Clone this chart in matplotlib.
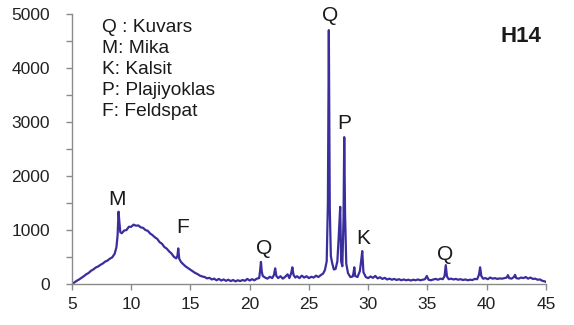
import numpy as np
import matplotlib
matplotlib.use("Agg")
import matplotlib.pyplot as plt
from matplotlib.ticker import MultipleLocator

plt.rcParams["font.family"] = ["Liberation Sans", "DejaVu Sans"]

# amorphous hump + mica / feldspar region (2-theta, counts)
hump_theta = [5.0, 5.2, 5.4, 5.6, 5.8, 6.0, 6.2, 6.4, 6.6, 6.8, 7.0, 7.2, 7.4,
              7.6, 7.8, 8.0, 8.2, 8.4, 8.6, 8.75, 8.85, 8.93, 9.0, 9.08, 9.2,
              9.4, 9.6, 9.8, 10.0, 10.2, 10.4, 10.6, 10.8, 11.0, 11.2, 11.4,
              11.6, 11.8, 12.0, 12.2, 12.4, 12.6, 12.8, 13.0, 13.2, 13.4, 13.6,
              13.8, 13.9, 13.97, 14.05, 14.2, 14.4, 14.6, 14.8, 15.0, 15.2,
              15.4, 15.6, 15.8, 16.0]
hump_counts = [0, 30, 60, 85, 115, 145, 180, 205, 245, 270, 305, 325, 355,
               380, 415, 435, 470, 495, 560, 680, 900, 1340, 1150, 960, 940,
               990, 1000, 1060, 1060, 1100, 1080, 1085, 1050, 1040, 1000, 985,
               935, 905, 865, 835, 775, 745, 685, 655, 605, 565, 505,
               475, 520, 660, 470, 410, 365, 325, 295, 265, 235,
               205, 185, 155, 140]

# quartz / plagioclase / calcite region
mid_theta = [16.2, 16.4, 16.6, 16.8, 17.0, 17.2, 17.4, 17.6, 17.8, 18.0, 18.2,
             18.4, 18.6, 18.8, 19.0, 19.2, 19.4, 19.6, 19.8, 20.0, 20.2, 20.4,
             20.6, 20.8, 20.88, 20.95, 21.02, 21.1, 21.3, 21.5, 21.7, 21.9,
             22.05, 22.15, 22.25, 22.4, 22.6, 22.8, 23.0, 23.2, 23.35, 23.5,
             23.6, 23.7, 23.85, 24.0, 24.2, 24.4, 24.6, 24.8, 25.0, 25.2, 25.4,
             25.6, 25.8, 26.0, 26.2, 26.35, 26.5, 26.6, 26.68, 26.76, 26.85,
             26.95, 27.1, 27.25, 27.4, 27.52, 27.64, 27.72, 27.82, 27.92,
             27.98, 28.05, 28.15, 28.3, 28.5, 28.7, 28.78, 28.83, 28.9, 29.1,
             29.3, 29.42, 29.5, 29.6, 29.8]
mid_counts = [130, 105, 115, 85, 100, 70, 95, 65, 85, 60, 80,
              55, 75, 50, 70, 55, 75, 60, 95, 65, 90, 70,
              100, 110, 250, 410, 230, 150, 120, 100, 135, 110,
              170, 290, 150, 110, 145, 100, 135, 180, 110, 200,
              310, 170, 120, 145, 110, 155, 120, 145, 110, 135, 120,
              155, 130, 165, 195, 260, 420, 1500, 4700, 1400, 520,
              400, 270, 280, 420, 900, 1430, 420, 330, 1200,
              2720, 1300, 380, 200, 130, 140, 230, 310, 150, 130,
              240, 450, 610, 220, 130]

# high-angle region
high_theta = [30.0, 30.2, 30.4, 30.6, 30.8, 31.0, 31.2, 31.4, 31.6, 31.8, 32.0,
              32.2, 32.4, 32.6, 32.8, 33.0, 33.2, 33.4, 33.6, 33.8, 34.0, 34.2,
              34.4, 34.6, 34.8, 34.95, 35.1, 35.3, 35.5, 35.7, 35.9, 36.1, 36.3,
              36.45, 36.55, 36.65, 36.8, 37.0, 37.2, 37.4, 37.6, 37.8, 38.0,
              38.2, 38.4, 38.6, 38.8, 39.0, 39.2, 39.35, 39.45, 39.55, 39.7,
              39.9, 40.1, 40.3, 40.5, 40.7, 40.9, 41.1, 41.3, 41.5, 41.7, 41.8,
              41.9, 42.1, 42.3, 42.4, 42.5, 42.7, 42.9, 43.1, 43.3, 43.5, 43.7,
              43.9, 44.1, 44.3, 44.5, 44.7, 44.9, 45.0]
high_counts = [110, 140, 115, 150, 105, 125, 95, 115, 85, 100, 80,
               95, 75, 90, 70, 85, 70, 80, 65, 80, 70, 85,
               70, 80, 90, 150, 80, 70, 85, 95, 80, 100, 90,
               150, 350, 140, 90, 100, 85, 95, 80, 90, 75,
               85, 70, 80, 75, 95, 90, 170, 310, 150, 100,
               110, 90, 120, 100, 110, 95, 105, 100, 110, 120, 165,
               110, 100, 130, 170, 110, 100, 120, 110, 130, 100, 120,
               95, 100, 80, 85, 60, 50, 40]

peak_labels = ["M", "F", "Q", "Q", "P", "K", "Q"]
label_theta = [8.8, 14.3, 21.2, 26.75, 28.0, 29.55, 36.5]
label_counts = [1560, 1040, 650, 4980, 2980, 850, 540]

legend_text = "Q : Kuvars\nM: Mika\nK: Kalsit\nP: Plajiyoklas\nF: Feldspat"
sample = "H14"

theta = np.concatenate([hump_theta, mid_theta, high_theta])
counts = np.concatenate([hump_counts, mid_counts, high_counts])

fig = plt.figure(figsize=(5.74, 3.25), dpi=100)
ax = fig.add_axes([0.1254, 0.126, 0.8256, 0.831])

ax.plot(theta, counts, color="#3a2d9e", lw=1.6)

ax.set_xlim(5, 45)
ax.set_ylim(0, 5000)
ax.xaxis.set_major_locator(MultipleLocator(5))
ax.yaxis.set_major_locator(MultipleLocator(1000))
ax.yaxis.set_minor_locator(MultipleLocator(500))

for side in ["top", "right"]:
    ax.spines[side].set_visible(False)
for side in ["left", "bottom"]:
    ax.spines[side].set_color("#8a8a8a")
    ax.spines[side].set_linewidth(1.0)

ax.tick_params(which="both", direction="out", color="#8a8a8a", width=1.0,
               labelsize=12.5, labelcolor="#222222")
ax.tick_params(axis="y", which="major", length=4, pad=12)
ax.tick_params(axis="y", which="minor", length=4)
ax.tick_params(axis="x", length=4, pad=5)

for lab, x, y in zip(peak_labels, label_theta, label_counts):
    ax.text(x, y, lab, ha="center", va="center", fontsize=15, color="#1a1a1a")

ax.text(5.0 + 30 / 11.85, 4900, legend_text, ha="left", va="top",
        fontsize=13.8, color="#1a1a1a", linespacing=1.3)
ax.text(42.9, 4575, sample, ha="center", va="center", fontsize=16,
        fontweight="bold", color="#1a1a1a")

fig.savefig("out.png", dpi=100)
